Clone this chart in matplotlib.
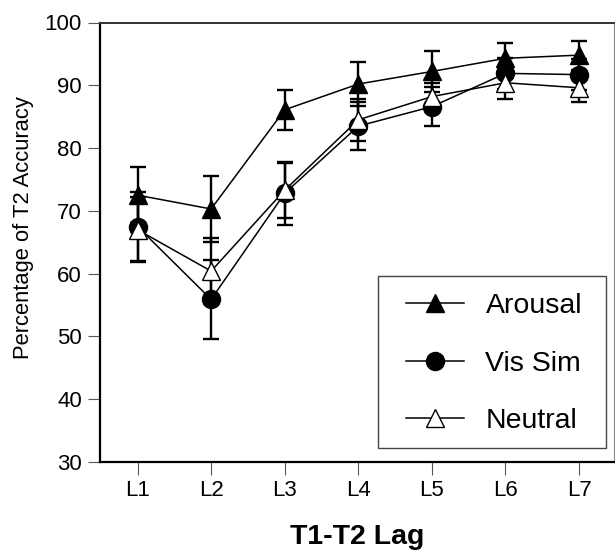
import matplotlib
matplotlib.use("Agg")
import matplotlib.pyplot as plt
from matplotlib.lines import Line2D
from matplotlib.patches import Rectangle

plt.rcParams['font.family'] = ['Liberation Sans', 'DejaVu Sans']

lags = ["L1", "L2", "L3", "L4", "L5", "L6", "L7"]
arousal = [72.5, 70.3, 86.1, 90.2, 92.2, 94.3, 94.8]
arousal_err = [4.5, 5.2, 3.2, 3.5, 3.3, 2.5, 2.3]
vissim = [67.5, 55.9, 72.8, 83.5, 86.6, 91.9, 91.7]
vissim_err = [5.5, 6.3, 5.0, 3.8, 3.1, 2.5, 2.5]
neutral = [67.0, 60.4, 73.3, 84.5, 88.2, 90.4, 89.6]
neutral_err = [5.2, 5.3, 4.4, 3.3, 2.2, 2.6, 2.3]

x = list(range(1, len(lags) + 1))

fig = plt.figure(figsize=(6.15, 5.51), dpi=100)
ax = fig.add_axes([100/615, 89/551, 514/615, 439.5/551])

ms = 13
series = [
    ("Arousal", arousal, arousal_err, '^', 'black', 6),
    ("Vis Sim", vissim, vissim_err, 'o', 'black', 4),
    ("Neutral", neutral, neutral_err, '^', 'white', 5),
]
for name, vals, err, mk, fc, z in series:
    ax.errorbar(x, vals, yerr=err, fmt='none', ecolor='black',
                elinewidth=1.7, capsize=6, capthick=1.7, zorder=2)
for name, vals, err, mk, fc, z in series:
    ax.plot(x, vals, color='black', lw=1.1, marker=mk, markersize=ms,
            markerfacecolor=fc, markeredgecolor='black', markeredgewidth=1.0,
            zorder=z)

ax.set_xlim(0.49, 7.475)
ax.set_ylim(30, 100)
ax.set_xticks(x)
ax.set_xticklabels(lags)
ax.set_yticks(range(30, 101, 10))
ax.tick_params(axis='both', direction='out', length=9, width=0.8,
               color='#555555', labelsize=16, pad=4)

for side in ['left', 'bottom']:
    ax.spines[side].set_linewidth(1.6)
    ax.spines[side].set_color('black')
ax.spines['top'].set_linewidth(1.4)
ax.spines['top'].set_color('#333333')
ax.spines['right'].set_linewidth(0.8)
ax.spines['right'].set_color('#888888')

handles = [
    Line2D([0], [0], color='black', lw=1.1, marker='^', markersize=ms,
           markerfacecolor='black', markeredgecolor='black'),
    Line2D([0], [0], color='black', lw=1.1, marker='o', markersize=ms,
           markerfacecolor='black', markeredgecolor='black'),
    Line2D([0], [0], color='black', lw=1.1, marker='^', markersize=ms,
           markerfacecolor='white', markeredgecolor='black'),
]
# legend frame drawn separately to match the wider box of the original
box = Rectangle((0.541, 0.032), 0.443, 0.391, transform=ax.transAxes,
                facecolor='white', edgecolor='#444444', linewidth=1.0,
                zorder=7)
ax.add_patch(box)
leg = ax.legend(handles, ["Arousal", "Vis Sim", "Neutral"], loc='lower right',
                bbox_to_anchor=(0.9377, 0.0636), borderaxespad=0,
                fontsize=20.5, frameon=False,
                handlelength=2.05, handletextpad=0.75, labelspacing=1.1,
                borderpad=0.0)
leg.set_zorder(8)

fig.text(24/615, 1 - 228/551, "Percentage of T2 Accuracy", rotation=90,
         ha='center', va='center', fontsize=15.8)
fig.text(357/615, 1 - 537/551, "T1-T2 Lag", ha='center', va='center',
         fontsize=20.5, fontweight='bold')

fig.savefig("out.png", dpi=100)
